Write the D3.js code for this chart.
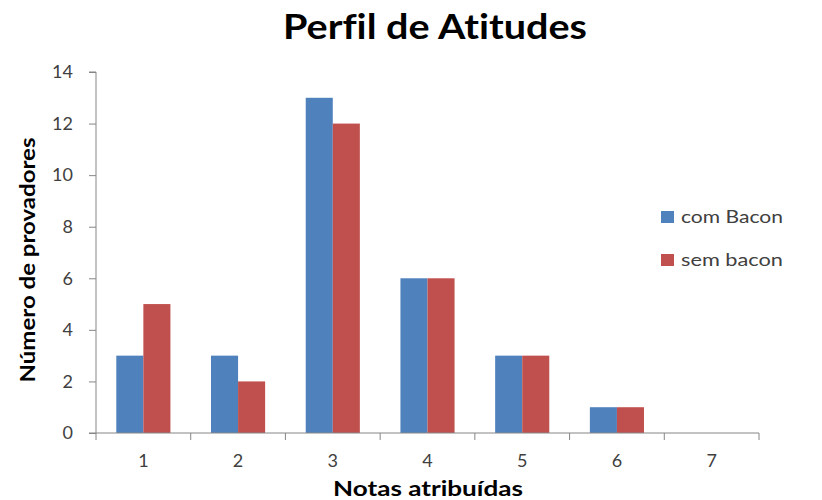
<!DOCTYPE html>
<html>
<head>
<meta charset="utf-8">
<script src="https://cdn.jsdelivr.net/npm/d3@7"></script>
<style>
  html, body { margin: 0; padding: 0; background: #fff; }
  svg { display: block; }
  text { font-family: Lato, "Open Sans", sans-serif; font-variant-ligatures: none; }
</style>
</head>
<body>
<svg id="chart" width="822" height="500"></svg>
<script>
// Notas atribuídas (1–7) e número de provadores por versão
const categories = ["1", "2", "3", "4", "5", "6", "7"];
const comBacon = [3, 3, 13, 6, 3, 1, 0];
const semBacon = [5, 2, 12, 6, 3, 1, 0];
const seriesNames = ["com Bacon", "sem bacon"];
const seriesColors = ["#4F81BD", "#C0504D"];
const yTicks = [0, 2, 4, 6, 8, 10, 12, 14];

const svg = d3.select("#chart");
const margin = { left: 96, right: 63, top: 72, bottom: 67 };
const W = 822, H = 500;
const plotW = W - margin.left - margin.right;
const plotH = H - margin.top - margin.bottom;

const g = svg.append("g").attr("transform", `translate(${margin.left},${margin.top})`);

const x = d3.scaleBand().domain(categories).range([0, plotW]).paddingInner(0).paddingOuter(0);
// duas barras por categoria, com espaço de 150% da largura de uma barra
const inner = d3.scaleBand().domain(seriesNames).range([0, x.bandwidth()]).paddingInner(0).paddingOuter(0.75);
const y = d3.scaleLinear().domain([0, 14]).range([plotH, 0]);

const table = categories.map((c, i) => ({ cat: c, values: [comBacon[i], semBacon[i]] }));

// barras
const groups = g.selectAll("g.cat").data(table).enter().append("g")
  .attr("class", "cat")
  .attr("transform", d => `translate(${x(d.cat)},0)`);

groups.selectAll("rect").data(d => d.values.map((v, k) => ({ v, k })))
  .enter().append("rect")
  .attr("x", d => inner(seriesNames[d.k]))
  .attr("width", inner.bandwidth())
  .attr("y", d => y(d.v))
  .attr("height", d => plotH - y(d.v))
  .attr("fill", d => seriesColors[d.k]);

// eixo Y
const yAxis = d3.axisLeft(y).tickValues(yTicks).tickSize(7).tickPadding(16);
const yg = g.append("g").call(yAxis);
yg.select(".domain").attr("stroke", "#868686").attr("d", `M-7,0H0V${plotH}H-7`);
yg.selectAll(".tick line").attr("stroke", "#868686");
yg.selectAll(".tick text").attr("font-size", 18).attr("fill", "#404040").attr("font-family", "Lato, sans-serif");

// eixo X
const xTickPos = d3.range(categories.length + 1).map(i => i * x.step());
const xg = g.append("g").attr("transform", `translate(0,${plotH})`);
xg.append("line").attr("x1", 0).attr("x2", plotW).attr("y1", 0).attr("y2", 0).attr("stroke", "#868686");
xg.selectAll("line.tk").data(xTickPos).enter().append("line")
  .attr("class", "tk")
  .attr("x1", d => d).attr("x2", d => d).attr("y1", 0).attr("y2", 7)
  .attr("stroke", "#868686");
xg.selectAll("text").data(categories).enter().append("text")
  .attr("x", d => x(d) + x.bandwidth() / 2)
  .attr("y", 34)
  .attr("text-anchor", "middle")
  .attr("font-size", 18)
  .attr("fill", "#404040")
  .text(d => d);

// títulos
svg.append("text")
  .attr("x", 435).attr("y", 39)
  .attr("text-anchor", "middle")
  .attr("font-size", 34)
  .attr("font-weight", "bold")
  .attr("fill", "#000")
  .attr("textLength", 304)
  .attr("lengthAdjust", "spacingAndGlyphs")
  .text("Perfil de Atitudes");

svg.append("text")
  .attr("x", 428).attr("y", 496)
  .attr("text-anchor", "middle")
  .attr("font-size", 20)
  .attr("font-weight", "bold")
  .attr("fill", "#000")
  .attr("textLength", 190)
  .attr("lengthAdjust", "spacingAndGlyphs")
  .text("Notas atribuídas");

svg.append("text")
  .attr("transform", "translate(35,260) rotate(-90)")
  .attr("text-anchor", "middle")
  .attr("font-size", 21)
  .attr("font-weight", "bold")
  .attr("fill", "#000")
  .attr("textLength", 245)
  .attr("lengthAdjust", "spacingAndGlyphs")
  .text("Número de provadores");

// legenda
const legend = svg.append("g").attr("transform", "translate(661,211)");
const li = legend.selectAll("g").data(seriesNames).enter().append("g")
  .attr("transform", (d, i) => `translate(0,${i * 43})`);
li.append("rect").attr("width", 13).attr("height", 12).attr("fill", (d, i) => seriesColors[i]);
li.append("text").attr("x", 20).attr("y", 12).attr("font-size", 18).attr("fill", "#404040")
  .attr("textLength", 102).attr("lengthAdjust", "spacingAndGlyphs")
  .text(d => d);
</script>
</body>
</html>
